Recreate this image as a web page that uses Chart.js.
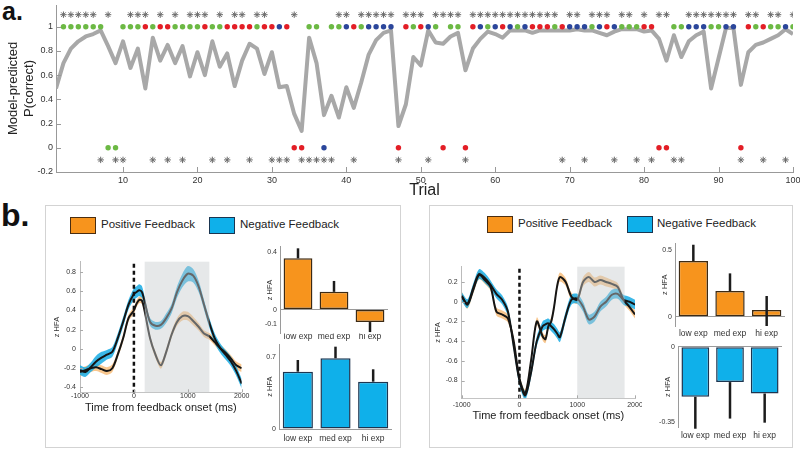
<!DOCTYPE html>
<html>
<head>
<meta charset="utf-8">
<script src="https://cdn.jsdelivr.net/npm/chart.js@4.4.1/dist/chart.umd.min.js"></script>
<style>
  body { margin: 0; background: #fff; width: 800px; height: 449px; overflow: hidden; position: relative; font-family: "Liberation Sans", Arial, sans-serif; }
  canvas { position: absolute; }
  .box { position: absolute; border: 1.5px solid #d3d3d3; box-sizing: border-box; }
  .lab { position: absolute; font-weight: bold; color: #111; line-height: 1; }
  .key { position: absolute; font-size: 11.5px; color: #222; line-height: 1; }
  .sw { position: absolute; width: 26px; height: 17px; box-sizing: border-box; border: 1.5px solid #333; }
</style>
</head>
<body>

<div class="lab" style="left:2px;top:-1px;font-size:25px">a.</div>
<div class="lab" style="left:1px;top:199px;font-size:32px">b.</div>

<div class="box" style="left:45px;top:205px;width:356px;height:243px"></div>
<div class="box" style="left:429px;top:205px;width:364px;height:243px"></div>

<!-- legends -->
<div class="sw" style="left:70px;top:217px;background:#f7941d;border-color:#4a2d10"></div>
<div class="key" style="left:101px;top:219px">Positive Feedback</div>
<div class="sw" style="left:209px;top:217px;background:#0fb0ea;border-color:#1a3550"></div>
<div class="key" style="left:240px;top:219px">Negative Feedback</div>
<div class="sw" style="left:487px;top:216px;background:#f7941d;border-color:#4a2d10"></div>
<div class="key" style="left:518px;top:218px">Positive Feedback</div>
<div class="sw" style="left:627px;top:216px;background:#0fb0ea;border-color:#1a3550"></div>
<div class="key" style="left:657px;top:218px">Negative Feedback</div>

<canvas id="top" width="800" height="200" style="left:0;top:0"></canvas>
<canvas id="lineL" width="205" height="161" style="left:45px;top:255px"></canvas>
<canvas id="lineR" width="212" height="166" style="left:430px;top:258px"></canvas>
<canvas id="barLP" width="135" height="106" style="left:258px;top:240px"></canvas>
<canvas id="barLN" width="140" height="107" style="left:258px;top:338px"></canvas>
<canvas id="barRP" width="140" height="104" style="left:652px;top:236px"></canvas>
<canvas id="barRN" width="140" height="101" style="left:652px;top:340px"></canvas>

<script>
// ---- panel a: model-predicted P(correct) per trial ----
const pCorrect = [0.49,0.70,0.82,0.88,0.92,0.94,0.97,0.84,0.70,0.88,
  0.66,0.82,0.49,0.91,0.72,0.85,0.70,0.84,0.59,0.79,
  0.60,0.88,0.67,0.78,0.51,0.72,0.86,0.82,0.61,0.79,
  0.50,0.51,0.28,0.14,0.91,0.70,0.27,0.43,0.25,0.50,
  0.33,0.54,0.77,0.89,0.95,0.97,0.18,0.36,0.75,0.68,
  0.97,0.87,0.86,0.92,0.95,0.64,0.82,0.90,0.96,0.94,
  0.91,0.97,0.97,0.97,0.95,0.97,0.97,0.97,0.97,0.97,
  0.98,0.97,0.97,0.95,0.93,0.96,0.98,0.98,0.98,0.96,
  0.97,0.90,0.72,0.93,0.75,0.88,0.93,0.96,0.49,0.74,
  0.99,0.99,0.52,0.79,0.85,0.87,0.90,0.93,0.98,0.94];

// trial numbers of the coloured markers (row at 1 and row at 0)
const greenHi = [2,3,4,5,6,7,10,11,12,14,17,18,19,20,22,23,28,35,36,38,39,42,49,52,54,55,59,63,68,73,77,78,79,84,85,89,90,95,97,98,100];
const redHi = [13,15,16,21,24,25,26,27,29,30,32,41,48,50,57,61,65,66,67,69,75,80,81,94,96];
const blueHi = [31,40,43,44,45,46,51,58,60,62,64,70,71,72,74,76,86,87,88,91,92,99];
const greenLo = [8,9];
const redLo = [33,34,47,53,56,82,83,93];
const blueLo = [37];
// trial numbers of the asterisks (row at 1.1 and row at -0.1)
const starHi = [2,3,4,5,6,8,11,12,13,15,17,19,20,21,23,25,26,28,29,33,39,40,42,43,44,45,46,48,49,50,52,53,54,55,57,58,59,60,61,62,63,64,65,66,67,68,70,71,73,74,75,77,78,80,82,83,86,87,88,89,90,91,92,94,95,97,98,100];
const starLo = [7,9,10,14,16,18,22,24,27,30,31,32,34,35,36,37,38,41,47,51,56,69,72,76,79,81,84,85,93,96,99];

const topXTicks = [10,20,30,40,50,60,70,80,90,100];
const topYTicks = [-0.2,0,0.2,0.4,0.6,0.8,1];

// ---- panel b: z HFA time courses ----
const leftT = [-1000,-900,-800,-700,-600,-500,-400,-300,-200,-100,0,50,100,150,200,300,400,500,600,700,800,900,1000,1100,1200,1300,1400,1500,1600,1700,1800,1900,2000];
const leftNeg = [-0.22,-0.24,-0.19,-0.13,-0.09,-0.06,-0.03,0.11,0.28,0.46,0.57,0.59,0.61,0.59,0.49,0.28,0.24,0.25,0.32,0.42,0.59,0.71,0.78,0.76,0.65,0.46,0.27,0.11,0.01,-0.06,-0.13,-0.23,-0.36];
const leftNegSem = [0.05,0.05,0.05,0.06,0.06,0.05,0.05,0.05,0.05,0.05,0.06,0.06,0.06,0.06,0.05,0.04,0.04,0.04,0.05,0.05,0.06,0.07,0.08,0.07,0.06,0.05,0.05,0.05,0.05,0.05,0.05,0.05,0.05];
const leftPos = [-0.24,-0.22,-0.20,-0.19,-0.21,-0.23,-0.20,-0.06,0.11,0.32,0.40,0.47,0.51,0.50,0.39,0.11,-0.06,-0.17,-0.03,0.15,0.28,0.34,0.34,0.29,0.23,0.16,0.13,0.07,0.01,-0.04,-0.10,-0.17,-0.20];
const leftPosSem = [0.04,0.04,0.04,0.04,0.04,0.04,0.04,0.035,0.035,0.035,0.035,0.035,0.035,0.035,0.035,0.035,0.035,0.035,0.035,0.035,0.04,0.045,0.045,0.045,0.04,0.035,0.035,0.035,0.035,0.035,0.035,0.04,0.04];
const leftYTicks = [-0.4,-0.2,0,0.2,0.4,0.6,0.8];

const rightT = [-1000,-900,-800,-700,-600,-500,-400,-300,-200,-100,0,100,200,300,400,450,500,550,600,650,700,800,900,1000,1100,1200,1300,1400,1500,1600,1700,1800,1900,2000];
const rightPos = [0.06,-0.03,0.12,0.27,0.22,0.15,-0.10,-0.13,-0.17,-0.40,-0.78,-0.93,-0.60,-0.20,-0.35,-0.38,-0.25,-0.20,-0.05,0.15,0.25,0.20,0.05,0.02,0.20,0.25,0.20,0.22,0.20,0.18,0.15,0.02,-0.05,-0.13];
const rightPosSem = [0.04,0.04,0.04,0.045,0.04,0.04,0.04,0.04,0.04,0.04,0.04,0.04,0.04,0.04,0.04,0.04,0.04,0.04,0.04,0.04,0.045,0.04,0.04,0.04,0.045,0.05,0.045,0.045,0.045,0.04,0.04,0.04,0.04,0.04];
const rightNeg = [0.05,-0.02,0.14,0.28,0.24,0.17,0.08,0.02,-0.10,-0.45,-0.80,-0.95,-0.72,-0.40,-0.25,-0.23,-0.22,-0.25,-0.28,-0.32,-0.36,-0.15,0.02,0.03,-0.05,-0.18,-0.15,-0.05,0.00,0.07,0.08,0.02,0.00,-0.03];
const rightNegSem = [0.045,0.045,0.045,0.05,0.05,0.045,0.045,0.045,0.045,0.045,0.045,0.045,0.05,0.05,0.05,0.05,0.05,0.05,0.05,0.05,0.05,0.05,0.05,0.05,0.05,0.05,0.05,0.05,0.05,0.05,0.05,0.05,0.05,0.05];
const rightYTicks = [-0.8,-0.6,-0.4,-0.2,0,0.2];
const timeTicks = [-1000,0,1000,2000];

// ---- panel b: bars by expectation ----
const expLabels = ['low exp','med exp','hi exp'];
const barLPos = [0.358,0.124,-0.087];
const barLPosErr = [[0.358,0.428],[0.124,0.20],[-0.087,-0.157]];
const barLNeg = [0.555,0.685,0.458];
const barLNegErr = [[0.555,0.668],[0.685,0.797],[0.458,0.578]];
const barRPos = [0.418,0.193,0.05];
const barRPosErr = [[0.418,0.54],[0.193,0.325],[-0.07,0.155]];
const barRNeg = [-0.232,-0.164,-0.217];
const barRNegErr = [[-0.232,-0.38],[-0.164,-0.333],[-0.217,-0.352]];

const ORANGE = '#f7941d', BLUE = '#0fb0ea';
const FONT = 'Liberation Sans, Arial, sans-serif';
Chart.defaults.font.family = FONT;
Chart.defaults.color = '#333';

const fmt = v => String(+Number(v).toFixed(2));
function fitY(w) { return s => { s.width = w; s.paddingTop = 0; s.paddingBottom = 0; }; }
function fitX(h) { return s => { s.height = h; s.paddingLeft = 0; s.paddingRight = 0; }; }
function setTicks(list) { return s => { s.ticks = list.map(v => ({ value: v })); }; }

// small inward tick marks like the original plots
const inTicks = {
  id: 'inTicks',
  afterDraw(chart, args, opts) {
    if (!opts.len) return;
    const { ctx, chartArea: a } = chart;
    ctx.save();
    ctx.strokeStyle = opts.color || '#888';
    ctx.lineWidth = 1;
    ['x', 'y'].forEach(k => {
      const s = chart.scales[k];
      s.ticks.forEach(t => {
        const p = Math.round(s.getPixelForValue(t.value)) + 0.5;
        ctx.beginPath();
        if (k === 'x') { ctx.moveTo(p, a.bottom); ctx.lineTo(p, a.bottom - opts.len); }
        else { ctx.moveTo(a.left, p); ctx.lineTo(a.left + opts.len, p); }
        ctx.stroke();
      });
    });
    ctx.restore();
  }
};

// grey analysis window + dashed onset line
const window_ = {
  id: 'window_',
  afterDatasetsDraw(chart, args, opts) {
    if (opts.from === undefined) return;
    const { ctx, chartArea: a, scales: { x } } = chart;
    const x0 = x.getPixelForValue(opts.from), x1 = x.getPixelForValue(opts.to);
    ctx.save();
    ctx.fillStyle = 'rgba(200,203,207,0.45)';
    ctx.fillRect(x0, a.top, x1 - x0, a.bottom - a.top);
    const z = x.getPixelForValue(0);
    ctx.strokeStyle = '#111';
    ctx.lineWidth = 2.5;
    ctx.setLineDash([4, 3]);
    ctx.beginPath();
    ctx.moveTo(z, a.top + 2);
    ctx.lineTo(z, a.bottom);
    ctx.stroke();
    ctx.restore();
  }
};

// error bars
const errBars = {
  id: 'errBars',
  afterDatasetsDraw(chart, args, opts) {
    if (!opts.ends) return;
    const meta = chart.getDatasetMeta(0), y = chart.scales.y, ctx = chart.ctx;
    ctx.save();
    ctx.strokeStyle = '#1c1c1c';
    ctx.lineWidth = 2.5;
    meta.data.forEach((bar, i) => {
      ctx.beginPath();
      ctx.moveTo(bar.x, y.getPixelForValue(opts.ends[i][0]));
      ctx.lineTo(bar.x, y.getPixelForValue(opts.ends[i][1]));
      ctx.stroke();
    });
    ctx.restore();
  }
};
Chart.register(inTicks, window_, errBars);

// ---------- panel a ----------
const pts = (list, y) => list.map(t => ({ x: t, y: y }));
const dot = (data, color) => ({ data, showLine: false, pointRadius: 2.7, pointBorderWidth: 0, pointBackgroundColor: color, order: 1 });
const star = data => ({ data, showLine: false, pointStyle: 'star', pointRadius: 3.2, pointBorderWidth: 1, pointBorderColor: '#6a6a6a', order: 1 });

new Chart(document.getElementById('top'), {
  type: 'line',
  data: {
    datasets: [
      dot(pts(greenHi, 1), '#6cb944'), dot(pts(redHi, 1), '#e31e26'), dot(pts(blueHi, 1), '#2b469b'),
      dot(pts(greenLo, 0), '#6cb944'), dot(pts(redLo, 0), '#e31e26'), dot(pts(blueLo, 0), '#2b469b'),
      star(pts(starHi, 1.1)), star(pts(starLo, -0.1)),
      { data: pCorrect.map((v, i) => ({ x: i + 1, y: v })), borderColor: '#a8a8a8', borderWidth: 4,
        pointRadius: 0, tension: 0, borderJoinStyle: 'round', order: 5 }
    ]
  },
  options: {
    responsive: false, animation: false, devicePixelRatio: 1,
    layout: { padding: { top: 5, right: 7, left: 0, bottom: 0 } },
    plugins: { legend: { display: false }, tooltip: { enabled: false }, inTicks: { len: 5, color: '#999' } },
    scales: {
      x: {
        type: 'linear', min: 1, max: 100,
        afterBuildTicks: setTicks(topXTicks), afterFit: fitX(28),
        grid: { display: false, drawTicks: false },
        border: { color: '#999' },
        ticks: { font: { size: 9 }, padding: 3.5, callback: fmt, maxRotation: 0 },
        title: { display: true, text: 'Trial', font: { size: 16, lineHeight: 1 }, color: '#222', padding: { top: 0, bottom: 1 } }
      },
      y: {
        min: -0.2, max: 1.18,
        afterBuildTicks: setTicks(topYTicks), afterFit: fitY(56),
        grid: { display: false, drawTicks: false },
        border: { color: '#999' },
        ticks: { font: { size: 9 }, padding: 3, callback: fmt },
        title: { display: true, text: ['Model-predicted', 'P(correct)'], font: { size: 13, lineHeight: 1.23 }, color: '#222', padding: { top: 5, bottom: 0 } }
      }
    }
  }
});

// ---------- panel b: time courses ----------
function bandSets(t, mean, sem, fillColor, order) {
  return [
    { data: t.map((x, i) => ({ x, y: mean[i] + sem[i] })), borderWidth: 0, pointRadius: 0, fill: '+1', backgroundColor: fillColor, tension: 0.3, order },
    { data: t.map((x, i) => ({ x, y: mean[i] - sem[i] })), borderWidth: 0, pointRadius: 0, fill: false, tension: 0.3, order },
    { data: t.map((x, i) => ({ x, y: mean[i] })), borderColor: '#151515', borderWidth: 2, pointRadius: 0, fill: false, tension: 0.3, order: 0 }
  ];
}

function lineChart(id, t, pos, posSem, neg, negSem, yMin, yMax, yTicks, win, dims) {
  new Chart(document.getElementById(id), {
    type: 'line',
    data: {
      datasets: [
        ...bandSets(t, pos, posSem, 'rgba(246,180,105,0.75)', 2),
        ...bandSets(t, neg, negSem, 'rgba(25,172,228,0.85)', 1)
      ]
    },
    options: {
      responsive: false, animation: false, devicePixelRatio: 1,
      layout: { padding: { top: dims.top, right: dims.right, left: 0, bottom: 0 } },
      plugins: { legend: { display: false }, tooltip: { enabled: false }, window_: { from: win[0], to: win[1] }, inTicks: { len: 3, color: '#aaa' } },
      scales: {
        x: {
          type: 'linear', min: -1000, max: 2000,
          afterBuildTicks: setTicks(timeTicks), afterFit: fitX(dims.xh),
          grid: { display: false, drawTicks: false },
          border: { color: '#c4c4c4' },
          ticks: { font: { size: 7 }, padding: dims.xtp, maxRotation: 0, callback: fmt },
          title: { display: true, text: 'Time from feedback onset (ms)', font: { size: 11 }, color: '#222', padding: { top: 0, bottom: dims.tpb } }
        },
        y: {
          min: yMin, max: yMax,
          afterBuildTicks: setTicks(yTicks), afterFit: fitY(dims.yw),
          grid: { display: false, drawTicks: false },
          border: { color: '#bbb' },
          ticks: { font: { size: 7 }, padding: 4, callback: fmt },
          title: { display: true, text: 'z HFA', font: { size: 7.5, lineHeight: 1.2 }, color: '#333', padding: { top: dims.ytp, bottom: 0 } }
        }
      }
    }
  });
}

lineChart('lineL', leftT, leftPos, leftPosSem, leftNeg, leftNegSem, -0.45, 0.905, leftYTicks, [200, 1400],
  { top: 6.7, right: 8.3, xh: 23.7, yw: 35, xtp: 0, tpb: 1.7, ytp: 7.5 });
lineChart('lineR', rightT, rightPos, rightPosSem, rightNeg, rightNegSem, -0.98, 0.355, rightYTicks, [1000, 1820],
  { top: 8.7, right: 7, xh: 25.7, yw: 31.7, xtp: 2.5, tpb: 1.4, ytp: 3.5 });

// ---------- panel b: bars ----------
function barChart(id, vals, ends, color, edge, yMin, yMax, yTicks, dims) {
  new Chart(document.getElementById(id), {
    type: 'bar',
    data: {
      labels: expLabels,
      datasets: [{ data: vals, backgroundColor: color, borderColor: edge, borderWidth: 1.5, borderSkipped: false,
        barPercentage: 0.8, categoryPercentage: 1 }]
    },
    options: {
      responsive: false, animation: false, devicePixelRatio: 1,
      layout: { padding: { top: dims.top, right: dims.right, left: 0, bottom: 0 } },
      plugins: { legend: { display: false }, tooltip: { enabled: false }, errBars: { ends } },
      scales: {
        x: {
          afterFit: fitX(dims.xh),
          grid: { display: false, drawTicks: false },
          border: { display: false },
          ticks: { font: { size: 8.5 }, padding: dims.xtp, color: '#333', maxRotation: 0, minRotation: 0, autoSkip: false }
        },
        y: {
          min: yMin, max: yMax,
          afterBuildTicks: setTicks(yTicks), afterFit: fitY(dims.yw),
          grid: { drawTicks: false, color: c => (c.tick && c.tick.value === 0) ? '#9a9a9a' : 'rgba(0,0,0,0)' },
          border: { color: '#9a9a9a' },
          ticks: { font: { size: 7 }, padding: 3, callback: fmt },
          title: { display: true, text: 'z HFA', font: { size: 7.5, lineHeight: 1.2 }, color: '#333', padding: { top: dims.ytp, bottom: 0 } }
        }
      }
    }
  });
}

barChart('barLP', barLPos, barLPosErr, ORANGE, '#3c2a14', -0.167, 0.44, [-0.1, 0, 0.4],
  { top: 6.6, right: 5, xh: 12.5, yw: 22, xtp: -1.5, ytp: 7.5 });
barChart('barLN', barLNeg, barLNegErr, BLUE, '#1d3550', 0, 0.82, [0, 0.7],
  { top: 6.3, right: 6, xh: 16, yw: 21, xtp: 4.5, ytp: 7.5 });
barChart('barRP', barRPos, barRPosErr, ORANGE, '#3c2a14', -0.07, 0.55, [0, 0.5],
  { top: 7.4, right: 7, xh: 14, yw: 23, xtp: 2.5, ytp: 8.5 });
barChart('barRN', barRNeg, barRNegErr, BLUE, '#1d3550', -0.372, 0, [-0.35, 0],
  { top: 6.7, right: 10, xh: 14, yw: 26, xtp: 3.5, ytp: 11.5 });
</script>
</body>
</html>
